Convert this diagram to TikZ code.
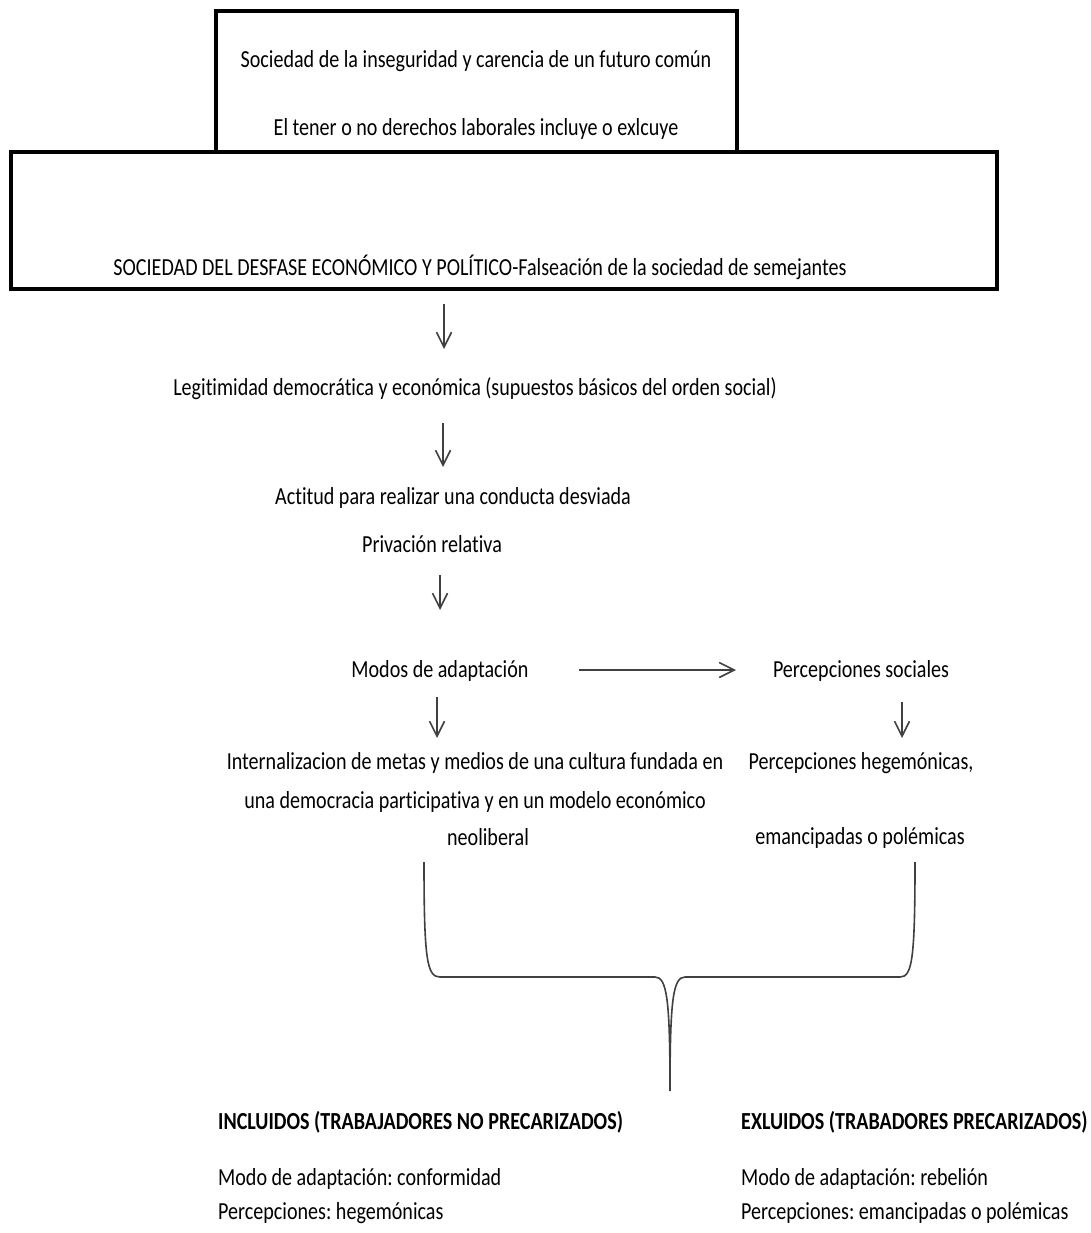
\documentclass[tikz,border=0pt]{standalone}
\usepackage{fontspec}
\setmainfont{Carlito}[FakeStretch=0.82,Ligatures={NoCommon}]
\usetikzlibrary{arrows.meta}
\frenchspacing
\begin{document}
\begin{tikzpicture}[x=1pt,y=-1pt,
  txt/.style={inner sep=0pt,anchor=base,font=\fontsize{24.5}{28}\selectfont\frenchspacing},
  txtl/.style={inner sep=0pt,anchor=base west,font=\fontsize{24.5}{28}\selectfont\frenchspacing},
  txtb/.style={inner sep=0pt,anchor=base west,font=\fontsize{24.5}{28}\selectfont\bfseries\frenchspacing},
  boxline/.style={line width=4pt},
  arr/.style={line width=1.6pt,draw=black!75,-{Straight Barb[length=15pt,width=15pt,line width=1.6pt]}},
  brace/.style={line width=1.6pt,draw=black!75}]
\fill[white] (0,0) rectangle (1091,1233);
% boxes
\node[draw,boxline,minimum width=521pt,minimum height=141pt,anchor=north west,inner sep=0pt] (box1) at (214,9) {};
\node[draw,boxline,fill=white,minimum width=986pt,minimum height=137pt,anchor=north west,inner sep=0pt] (box2) at (9,150) {};
\node[txt] (t1) at (476,68) {Sociedad de la inseguridad y carencia de un futuro común};
\node[txt] (t2) at (476,136) {El tener o no derechos laborales incluye o exlcuye};
\node[txt] (t3) at (480,276) {SOCIEDAD DEL DESFASE ECONÓMICO Y POLÍTICO-Falseación de la sociedad de semejantes};
% chain
\node[txt] (legit) at (475,395) {Legitimidad democrática y económica (supuestos básicos del orden social)};
\node[txt] (actitud) at (453,504) {Actitud para realizar una conducta desviada};
\node[txt] (priv) at (432,552) {Privación relativa};
\node[txt] (modos) at (440,677) {Modos de adaptación};
\node[txt] (perc) at (861,677) {Percepciones sociales};
\node[txt] (inter1) at (475,769) {Internalizacion de metas y medios de una cultura fundada en};
\node[txt] (inter2) at (475,808) {una democracia participativa y en un modelo económico};
\node[txt] (inter3) at (488,845) {neoliberal};
\node[txt] (ph1) at (861,769) {Percepciones hegemónicas,};
\node[txt] (ph2) at (860,844) {emancipadas o polémicas};
% bottom
\node[txtb] (inc) at (218,1129) {INCLUIDOS (TRABAJADORES NO PRECARIZADOS)};
\node[txtb] (exc) at (741,1129) {EXLUIDOS (TRABADORES PRECARIZADOS)};
\node[txtl] (inc1) at (218,1185) {Modo de adaptación: conformidad};
\node[txtl] (inc2) at (218,1219) {Percepciones: hegemónicas};
\node[txtl] (exc1) at (741,1185) {Modo de adaptación: rebelión};
\node[txtl] (exc2) at (741,1219) {Percepciones: emancipadas o polémicas};
% arrows
\coordinate (a1s) at (444,304); \coordinate (a1e) at (444,349);
\coordinate (a2s) at (443,423); \coordinate (a2e) at (443,467);
\coordinate (a3s) at (440,575); \coordinate (a3e) at (440,610);
\coordinate (a4s) at (579,670); \coordinate (a4e) at (736,670);
\coordinate (a5s) at (437,697); \coordinate (a5e) at (437,738);
\coordinate (a6s) at (902,702); \coordinate (a6e) at (902,738);
\draw[arr] (a1s) -- (a1e);
\draw[arr] (a2s) -- (a2e);
\draw[arr] (a3s) -- (a3e);
\draw[arr] (a4s) -- (a4e);
\draw[arr] (a5s) -- (a5e);
\draw[arr] (a6s) -- (a6e);
% brace
\coordinate (bl) at (424,862); \coordinate (br) at (915,862); \coordinate (btip) at (670,1091);
\draw[brace] (bl) .. controls (424,960) and (427,977) .. (440,977) -- (655,977)
  .. controls (667,977) and (670,1000) .. (btip)
  .. controls (670,1000) and (673,977) .. (685,977) -- (900,977)
  .. controls (912,977) and (915,960) .. (br);
\end{tikzpicture}
\end{document}
